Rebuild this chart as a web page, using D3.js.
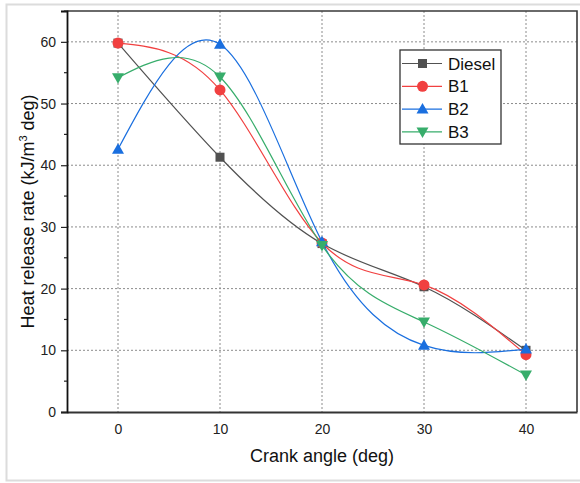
<!DOCTYPE html>
<html>
<head>
<meta charset="utf-8">
<script src="https://cdn.jsdelivr.net/npm/d3@7"></script>
<style>
  body { margin: 0; background: #fff; }
  svg { display: block; font-family: "Liberation Sans", Arial, sans-serif; }
</style>
</head>
<body>
<div id="viz"></div>
<script>
const width = 580
const height = 483

// data
const crankAngle = [0, 10, 20, 30, 40]
const diesel = [59.8, 41.3, 27.3, 20.3, 10.0]
const b1 = [59.8, 52.2, 27.4, 20.6, 9.3]
const b2 = [42.6, 59.6, 27.6, 10.8, 10.2]
const b3 = [54.2, 54.3, 27.0, 14.6, 6.0]
const seriesNames = ["Diesel", "B1", "B2", "B3"]
const xTicks = [0, 10, 20, 30, 40]
const yTicks = [0, 10, 20, 30, 40, 50, 60]
const yMinorTicks = [5, 15, 25, 35, 45, 55, 65]

const colors = ["#515151", "#F14040", "#1A6FDF", "#37AD6B"]
const symbols = ["square", "circle", "up", "down"]
const allSeries = [diesel, b1, b2, b3]

const plot = {left: 67, right: 577, top: 11, bottom: 412}

const svg = d3.select("#viz").append("svg").attr("width", width).attr("height", height)

// light outer frame
svg.append("rect").attr("x", 6.5).attr("y", 4.5).attr("width", 580).attr("height", 476)
    .attr("fill", "white").attr("stroke", "#dcdcdc").attr("stroke-width", 2)

const xScale = d3.scaleLinear().domain([-5, 45]).range([plot.left, plot.right])
const yScale = d3.scaleLinear().domain([0, 65]).range([plot.bottom, plot.top])

// grid
const gridGroup = svg.append("g").attr("id", "grid")
gridGroup.selectAll("line.vgrid").data(xTicks).enter().append("line").attr("class", "vgrid")
    .attr("x1", d=>xScale(d)).attr("x2", d=>xScale(d)).attr("y1", plot.top).attr("y2", plot.bottom)
    .attr("stroke", "#8c8c8c").attr("stroke-width", 1).attr("stroke-dasharray", "2,2")
gridGroup.selectAll("line.hgrid").data(yTicks.filter(d=>d>0)).enter().append("line").attr("class", "hgrid")
    .attr("x1", plot.left).attr("x2", plot.right).attr("y1", d=>yScale(d)).attr("y2", d=>yScale(d))
    .attr("stroke", "#8c8c8c").attr("stroke-width", 1).attr("stroke-dasharray", "2,2")

// frame top/right
svg.append("path").attr("d", `M${plot.left},${plot.top} H${plot.right} V${plot.bottom}`)
    .attr("fill", "none").attr("stroke", "#3a3a3a").attr("stroke-width", 1.6)

// axes
const xAxis = d3.axisBottom(xScale).tickValues(xTicks).tickSize(0).tickPadding(12)
const xAxisGroup = svg.append("g").attr("transform", `translate(0, ${plot.bottom})`).call(xAxis)
xAxisGroup.select(".domain").attr("stroke", "#333").attr("stroke-width", 1.8)
xAxisGroup.selectAll("text").attr("font-size", 14).attr("fill", "#222").attr("font-family", "Liberation Sans, Arial, sans-serif")

const yAxis = d3.axisLeft(yScale).tickValues(yTicks).tickSize(6).tickPadding(5)
const yAxisGroup = svg.append("g").attr("transform", `translate(${plot.left}, 0)`).call(yAxis)
yAxisGroup.select(".domain").attr("stroke", "#111").attr("stroke-width", 1.8)
yAxisGroup.selectAll("line").attr("stroke", "#222").attr("stroke-width", 1.2)
yAxisGroup.selectAll("text").attr("font-size", 14).attr("fill", "#222").attr("font-family", "Liberation Sans, Arial, sans-serif")
yAxisGroup.selectAll("line.minor").data(yMinorTicks).enter().append("line").attr("class", "minor")
    .attr("x1", -3).attr("x2", 0).attr("y1", d=>yScale(d)).attr("y2", d=>yScale(d))
    .attr("stroke", "#222").attr("stroke-width", 1.2)

// axis titles
svg.append("text").attr("x", (plot.left+plot.right)/2).attr("y", 462).attr("text-anchor", "middle")
    .attr("font-size", 18).attr("fill", "#111").text("Crank angle (deg)")

const yTitle = svg.append("text").attr("transform", `translate(34, ${(plot.top+plot.bottom)/2}) rotate(-90)`)
    .attr("text-anchor", "middle").attr("font-size", 18).attr("fill", "#111")
yTitle.append("tspan").text("Heat release rate (kJ/m")
yTitle.append("tspan").attr("font-size", 11).attr("dy", -7).text("3")
yTitle.append("tspan").attr("dy", 7).text(" deg)")

// markers
function drawMarker(g, kind, x, y, color) {
    if (kind === "square") {
        g.append("rect").attr("x", x-4.5).attr("y", y-4.5).attr("width", 9).attr("height", 9).attr("fill", color)
    } else if (kind === "circle") {
        g.append("circle").attr("cx", x).attr("cy", y).attr("r", 5.5).attr("fill", color)
    } else if (kind === "up") {
        g.append("path").attr("d", `M${x},${y-6} L${x+6},${y+4.5} L${x-6},${y+4.5} Z`).attr("fill", color)
    } else {
        g.append("path").attr("d", `M${x},${y+6} L${x+6},${y-4.5} L${x-6},${y-4.5} Z`).attr("fill", color)
    }
}

const line = d3.line().x(d=>xScale(d[0])).y(d=>yScale(d[1])).curve(d3.curveNatural)

const seriesGroup = svg.append("g").attr("id", "series")
allSeries.forEach((vals, i) => {
    const pts = crankAngle.map((c, j) => [c, vals[j]])
    const g = seriesGroup.append("g")
    g.append("path").attr("d", line(pts)).attr("fill", "none").attr("stroke", colors[i]).attr("stroke-width", 1.2)
    pts.forEach(p => drawMarker(g, symbols[i], xScale(p[0]), yScale(p[1]), colors[i]))
})

// legend
const legend = svg.append("g").attr("transform", "translate(400, 50)")
legend.append("rect").attr("x", 0).attr("y", 0).attr("width", 101).attr("height", 94)
    .attr("fill", "white").attr("stroke", "#333").attr("stroke-width", 1.3)
seriesNames.forEach((name, i) => {
    const yy = 13.5 + i*22.8
    legend.append("line").attr("x1", 2).attr("x2", 42).attr("y1", yy).attr("y2", yy)
        .attr("stroke", colors[i]).attr("stroke-width", 1.2)
    drawMarker(legend, symbols[i], 22.5, yy, colors[i])
    legend.append("text").attr("x", 48).attr("y", yy).attr("dy", "0.36em")
        .attr("font-size", 17).attr("fill", "#111").text(name)
})
</script>
</body>
</html>
